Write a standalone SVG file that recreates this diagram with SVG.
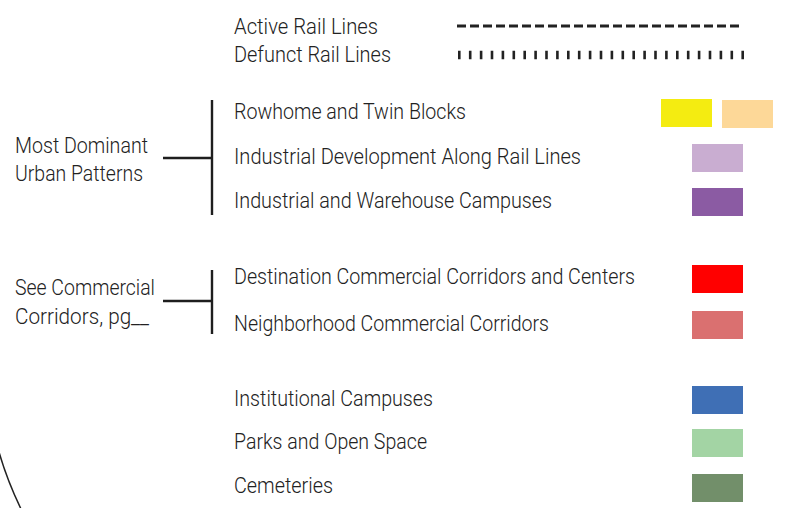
<svg xmlns="http://www.w3.org/2000/svg" width="785" height="508" viewBox="0 0 785 508">
<style>
text{font-family:Roboto,"Liberation Sans Narrow","Liberation Sans",sans-serif;font-weight:300;font-size:22px;fill:#222}
.ln{stroke:#1e1e1e;stroke-width:2.4;fill:none}
</style>
<rect width="785" height="508" fill="#fff"/>
<g id="rail-legend">
<text x="234" y="34" textLength="144" lengthAdjust="spacingAndGlyphs">Active Rail Lines</text>
<text x="234" y="62" textLength="157" lengthAdjust="spacingAndGlyphs">Defunct Rail Lines</text>
<line x1="457" y1="26" x2="743" y2="26" stroke="#222" stroke-width="2.8" stroke-dasharray="9 4"/>
<line x1="458" y1="55" x2="745" y2="55" stroke="#222" stroke-width="8.5" stroke-dasharray="2.6 8.3"/>
</g>
<g id="connectors">
<path class="ln" d="M212,100V215M163,158H212"/>
<path class="ln" d="M212,270V334M163,301H212"/>
<path d="M-1,452 Q7,480 21,509" stroke="#222" stroke-width="1.5" fill="none"/>
</g>
<g id="group-dominant">
<text x="15" y="153" textLength="133" lengthAdjust="spacingAndGlyphs">Most Dominant</text>
<text x="15" y="181" textLength="128" lengthAdjust="spacingAndGlyphs">Urban Patterns</text>
</g>
<g id="group-commercial">
<text x="15" y="295" textLength="140" lengthAdjust="spacingAndGlyphs">See Commercial</text>
<text x="15" y="324" textLength="134" lengthAdjust="spacingAndGlyphs">Corridors, pg__</text>
</g>
<g id="rowhome">
<text x="234" y="119" textLength="232" lengthAdjust="spacingAndGlyphs">Rowhome and Twin Blocks</text>
<rect x="661" y="99" width="51" height="28" fill="#F4EC11"/>
<rect x="722" y="100" width="51" height="28" fill="#FDD898"/>
</g>
<g id="industrial-rail">
<text x="234" y="164" textLength="347" lengthAdjust="spacingAndGlyphs">Industrial Development Along Rail Lines</text>
<rect x="692" y="144" width="51" height="28" fill="#C9ADD1"/>
</g>
<g id="industrial-warehouse">
<text x="234" y="208" textLength="318" lengthAdjust="spacingAndGlyphs">Industrial and Warehouse Campuses</text>
<rect x="692" y="188" width="51" height="28" fill="#8B5BA3"/>
</g>
<g id="destination-commercial">
<text x="234" y="284" textLength="401" lengthAdjust="spacingAndGlyphs">Destination Commercial Corridors and Centers</text>
<rect x="692" y="265" width="51" height="28" fill="#FF0000"/>
</g>
<g id="neighborhood-commercial">
<text x="234" y="331" textLength="315" lengthAdjust="spacingAndGlyphs">Neighborhood Commercial Corridors</text>
<rect x="692" y="311" width="51" height="28" fill="#DA7070"/>
</g>
<g id="institutional">
<text x="234" y="406" textLength="199" lengthAdjust="spacingAndGlyphs">Institutional Campuses</text>
<rect x="692" y="386" width="51" height="28" fill="#3F6FB5"/>
</g>
<g id="parks">
<text x="234" y="449" textLength="193" lengthAdjust="spacingAndGlyphs">Parks and Open Space</text>
<rect x="692" y="429" width="51" height="28" fill="#A3D4A4"/>
</g>
<g id="cemeteries">
<text x="234" y="493" textLength="99" lengthAdjust="spacingAndGlyphs">Cemeteries</text>
<rect x="692" y="474" width="51" height="28" fill="#728F6A"/>
</g>
</svg>
